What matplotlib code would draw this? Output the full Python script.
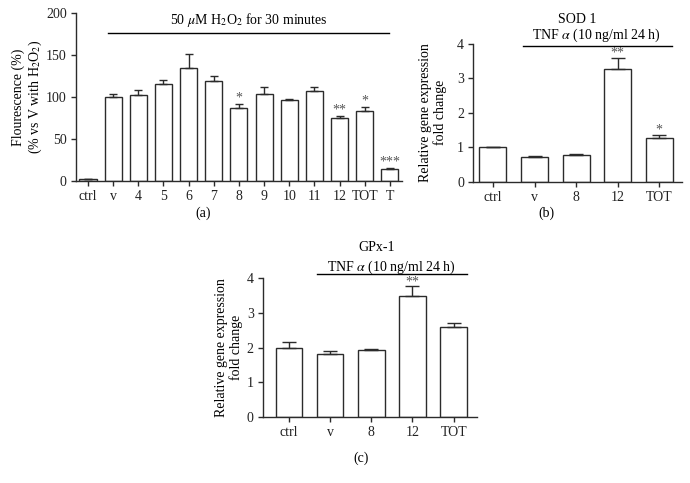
import matplotlib
matplotlib.use("Agg")
import matplotlib.pyplot as plt
import numpy as np

plt.rcParams['font.family'] = ['Liberation Serif', 'DejaVu Serif']
plt.rcParams['mathtext.fontset'] = 'stix'
plt.rcParams['font.size'] = 10

### Data
#########################

a_labels = ['ctrl', 'v', '4', '5', '6', '7', '8', '9', '10', '11', '12', 'TOT', 'T']
a_values = [3, 100, 103, 116, 135, 119, 87, 104, 96, 107, 75, 83, 15]
a_err_top = [3, 104, 109, 120, 151, 125, 92, 111.5, 98, 112, 77.5, 88, 16]
a_stars = ['', '', '', '', '', '', '*', '', '', '', '**', '*', '***']

b_labels = ['ctrl', 'v', '8', '12', 'TOT']
b_values = [1.0, 0.72, 0.77, 3.27, 1.26]
b_err_top = [1.02, 0.75, 0.79, 3.6, 1.35]
b_stars = ['', '', '', '**', '*']

c_labels = ['ctrl', 'v', '8', '12', 'TOT']
c_values = [2.0, 1.81, 1.93, 3.5, 2.58]
c_err_top = [2.17, 1.9, 1.96, 3.77, 2.72]
c_stars = ['', '', '', '**', '']

edge = '#2b2b2b'

### Helpers
#########################

def bar_panel(ax, labels, values, err_top, stars, width, capsize, star_off):
    x = np.arange(len(labels))
    vals = np.array(values)
    up = np.array(err_top) - vals
    ax.bar(x, vals, width=width, color='white', edgecolor=edge, linewidth=1.0,
           yerr=[np.zeros_like(up), up], capsize=capsize,
           error_kw=dict(ecolor=edge, elinewidth=1.0, capthick=1.0))
    for xi, top, s in zip(x, err_top, stars):
        if s:
            ax.text(xi, top + star_off, s, ha='center', va='bottom', color='#555555', fontsize=10)
    ax.set_xticks(x)
    ax.set_xticklabels(labels)
    for sp in ['top', 'right']:
        ax.spines[sp].set_visible(False)
    for sp in ['left', 'bottom']:
        ax.spines[sp].set_color(edge)
        ax.spines[sp].set_linewidth(1.0)
    ax.tick_params(colors=edge, direction='out', length=3.5, width=1.0, labelcolor='#222222', pad=3)

fig = plt.figure(figsize=(6.9, 4.83), dpi=100)

# (a)
ax1 = fig.add_axes([0.110, 0.625, 0.4725, 0.348])
bar_panel(ax1, a_labels, a_values, a_err_top, a_stars, 0.68, 3, -1)
ax1.set_xlim(-0.48, 12.48)
ax1.set_ylim(0, 200)
ax1.set_yticks([0, 50, 100, 150, 200])
ax1.set_ylabel('Flourescence (%)\n(% vs V with H$_2$O$_2$)', linespacing=1.1, va='center')
ax1.yaxis.set_label_coords(-0.148, 0.5)
ax1.plot([0.8, 11.95], [176, 176], color='black', lw=1.0, clip_on=False)
ax1.text(6.4, 192, '50 $\\mu$M H$_2$O$_2$ for 30 minutes', ha='center', va='center')
ax1.text(0.39, -0.19, '(a)', transform=ax1.transAxes, ha='center', va='center')

# (b)
ax2 = fig.add_axes([0.6855, 0.624, 0.303, 0.285])
bar_panel(ax2, b_labels, b_values, b_err_top, b_stars, 0.65, 5, -0.04)
ax2.set_xlim(-0.48, 4.55)
ax2.set_ylim(0, 4)
ax2.set_yticks([0, 1, 2, 3, 4])
ax2.set_ylabel('Relative gene expression\nfold change', linespacing=1.1, va='center')
ax2.yaxis.set_label_coords(-0.19, 0.5)
ax2.plot([0.72, 4.31], [3.95, 3.95], color='black', lw=1.0, clip_on=False)
ax2.text(2.5, 4.24, 'TNF $\\alpha$ (10 ng/ml 24 h)', ha='center', va='center')
ax2.text(2.02, 4.72, 'SOD 1', ha='center', va='center')
ax2.text(0.35, -0.227, '(b)', transform=ax2.transAxes, ha='center', va='center')

# (c)
ax3 = fig.add_axes([0.381, 0.137, 0.310, 0.287])
bar_panel(ax3, c_labels, c_values, c_err_top, c_stars, 0.645, 5, -0.08)
ax3.set_xlim(-0.63, 4.56)
ax3.set_ylim(0, 4)
ax3.set_yticks([0, 1, 2, 3, 4])
ax3.set_ylabel('Relative gene expression\nfold change', linespacing=1.1, va='center')
ax3.yaxis.set_label_coords(-0.157, 0.5)
ax3.plot([0.68, 4.32], [4.11, 4.11], color='black', lw=1.0, clip_on=False)
ax3.text(2.5, 4.31, 'TNF $\\alpha$ (10 ng/ml 24 h)', ha='center', va='center')
ax3.text(2.13, 4.89, 'GPx-1', ha='center', va='center')
ax3.text(0.46, -0.298, '(c)', transform=ax3.transAxes, ha='center', va='center')

fig.savefig('out.png', dpi=100)
